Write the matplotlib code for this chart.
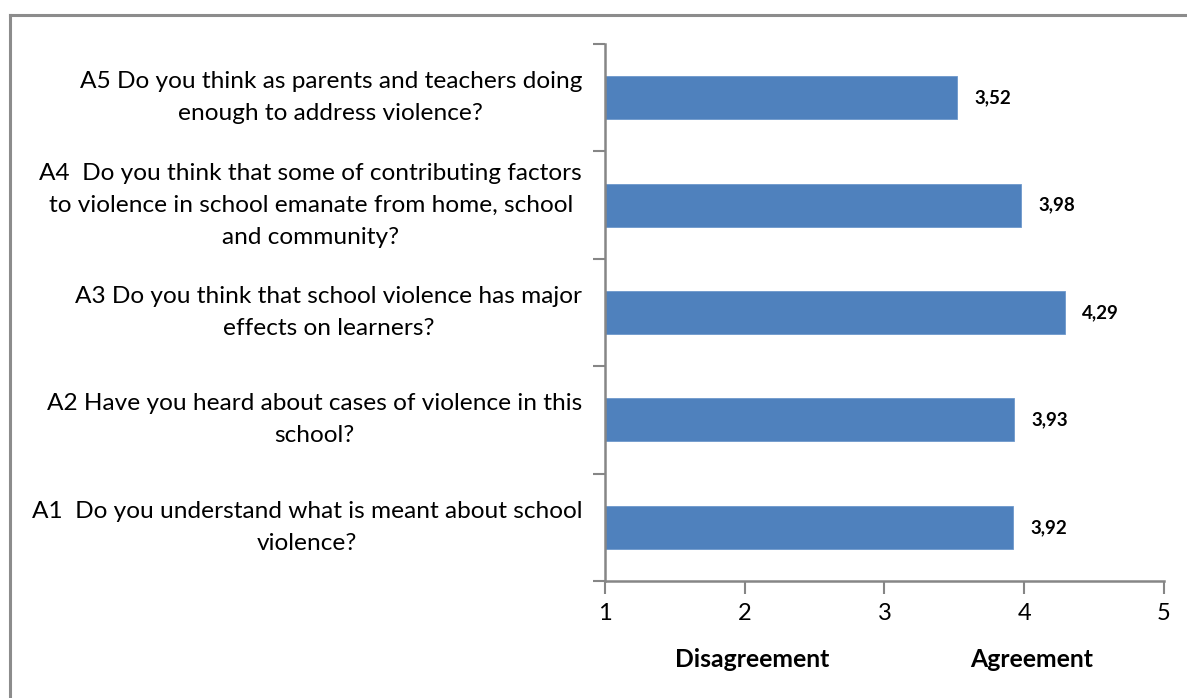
import matplotlib
matplotlib.use("Agg")
import matplotlib.pyplot as plt
from matplotlib.lines import Line2D

questions = [
    "A1  Do you understand what is meant about school\nviolence?",
    "A2 Have you heard about cases of violence in this\nschool?",
    "A3 Do you think that school violence has major\neffects on learners?",
    "A4  Do you think that some of contributing factors\nto violence in school emanate from home, school\nand community?",
    "A5 Do you think as parents and teachers doing\nenough to address violence?",
]
means = [3.92, 3.93, 4.29, 3.98, 3.52]
xticks = [1, 2, 3, 4, 5]
scale_labels = {2: "Disagreement", 4: "Agreement"}

plt.rcParams['font.family'] = ['Lato', 'DejaVu Sans']
grey = "#868686"
bar_color = "#4F81BD"

fig = plt.figure(figsize=(11.87, 6.98), dpi=100)
ax = fig.add_axes([605 / 1187, 1 - 581 / 698, 559 / 1187, 537 / 698])

ypos = list(range(len(questions)))
ax.barh(ypos, [m - 1 for m in means], left=1, height=0.4, color=bar_color,
        edgecolor="#6d98cc", linewidth=0.6)
for y, m in zip(ypos, means):
    ax.annotate(f"{m:.2f}".replace(".", ","), (m, y), xytext=(17, 0),
                textcoords="offset pixels",
                va="center", ha="left", fontsize=13.5, fontweight="bold")

ax.set_xlim(1, 5)
ax.set_ylim(-0.5, len(questions) - 0.5)
ax.set_xticks(xticks)
ax.set_xticklabels([str(t) for t in xticks], fontsize=17)
ax.set_yticks(ypos)
ax.set_yticklabels(questions, fontsize=17.6, multialignment="center", linespacing=1.65,
                   va="center")
ax.set_yticks([i - 0.5 for i in range(len(questions) + 1)], minor=True)
ax.tick_params(axis="y", which="major", length=0, pad=16.5)
ax.tick_params(axis="y", which="minor", length=9, width=1.5, color=grey, direction="out")
ax.tick_params(axis="x", length=9, width=1.5, color=grey, direction="out", pad=7)

for s in ["top", "right"]:
    ax.spines[s].set_visible(False)
for s in ["left", "bottom"]:
    ax.spines[s].set_color(grey)
    ax.spines[s].set_linewidth(1.8)

# scale descriptions under the tick labels
for xv, txt in scale_labels.items():
    ax.text(xv + 0.05, -0.125, txt, transform=ax.get_xaxis_transform(),
            ha="center", va="top", fontsize=17.8, fontweight="bold")

# outer frame (only left and top sides visible in the crop)
fig.add_artist(Line2D([10 / 1187, 10 / 1187], [0, 1 - 15 / 698], color="#8c8c8c", lw=2.2,
                      transform=fig.transFigure))
fig.add_artist(Line2D([10 / 1187, 1], [1 - 15 / 698, 1 - 15 / 698], color="#8c8c8c", lw=2.2,
                      transform=fig.transFigure))

fig.savefig("out.png", dpi=100)
